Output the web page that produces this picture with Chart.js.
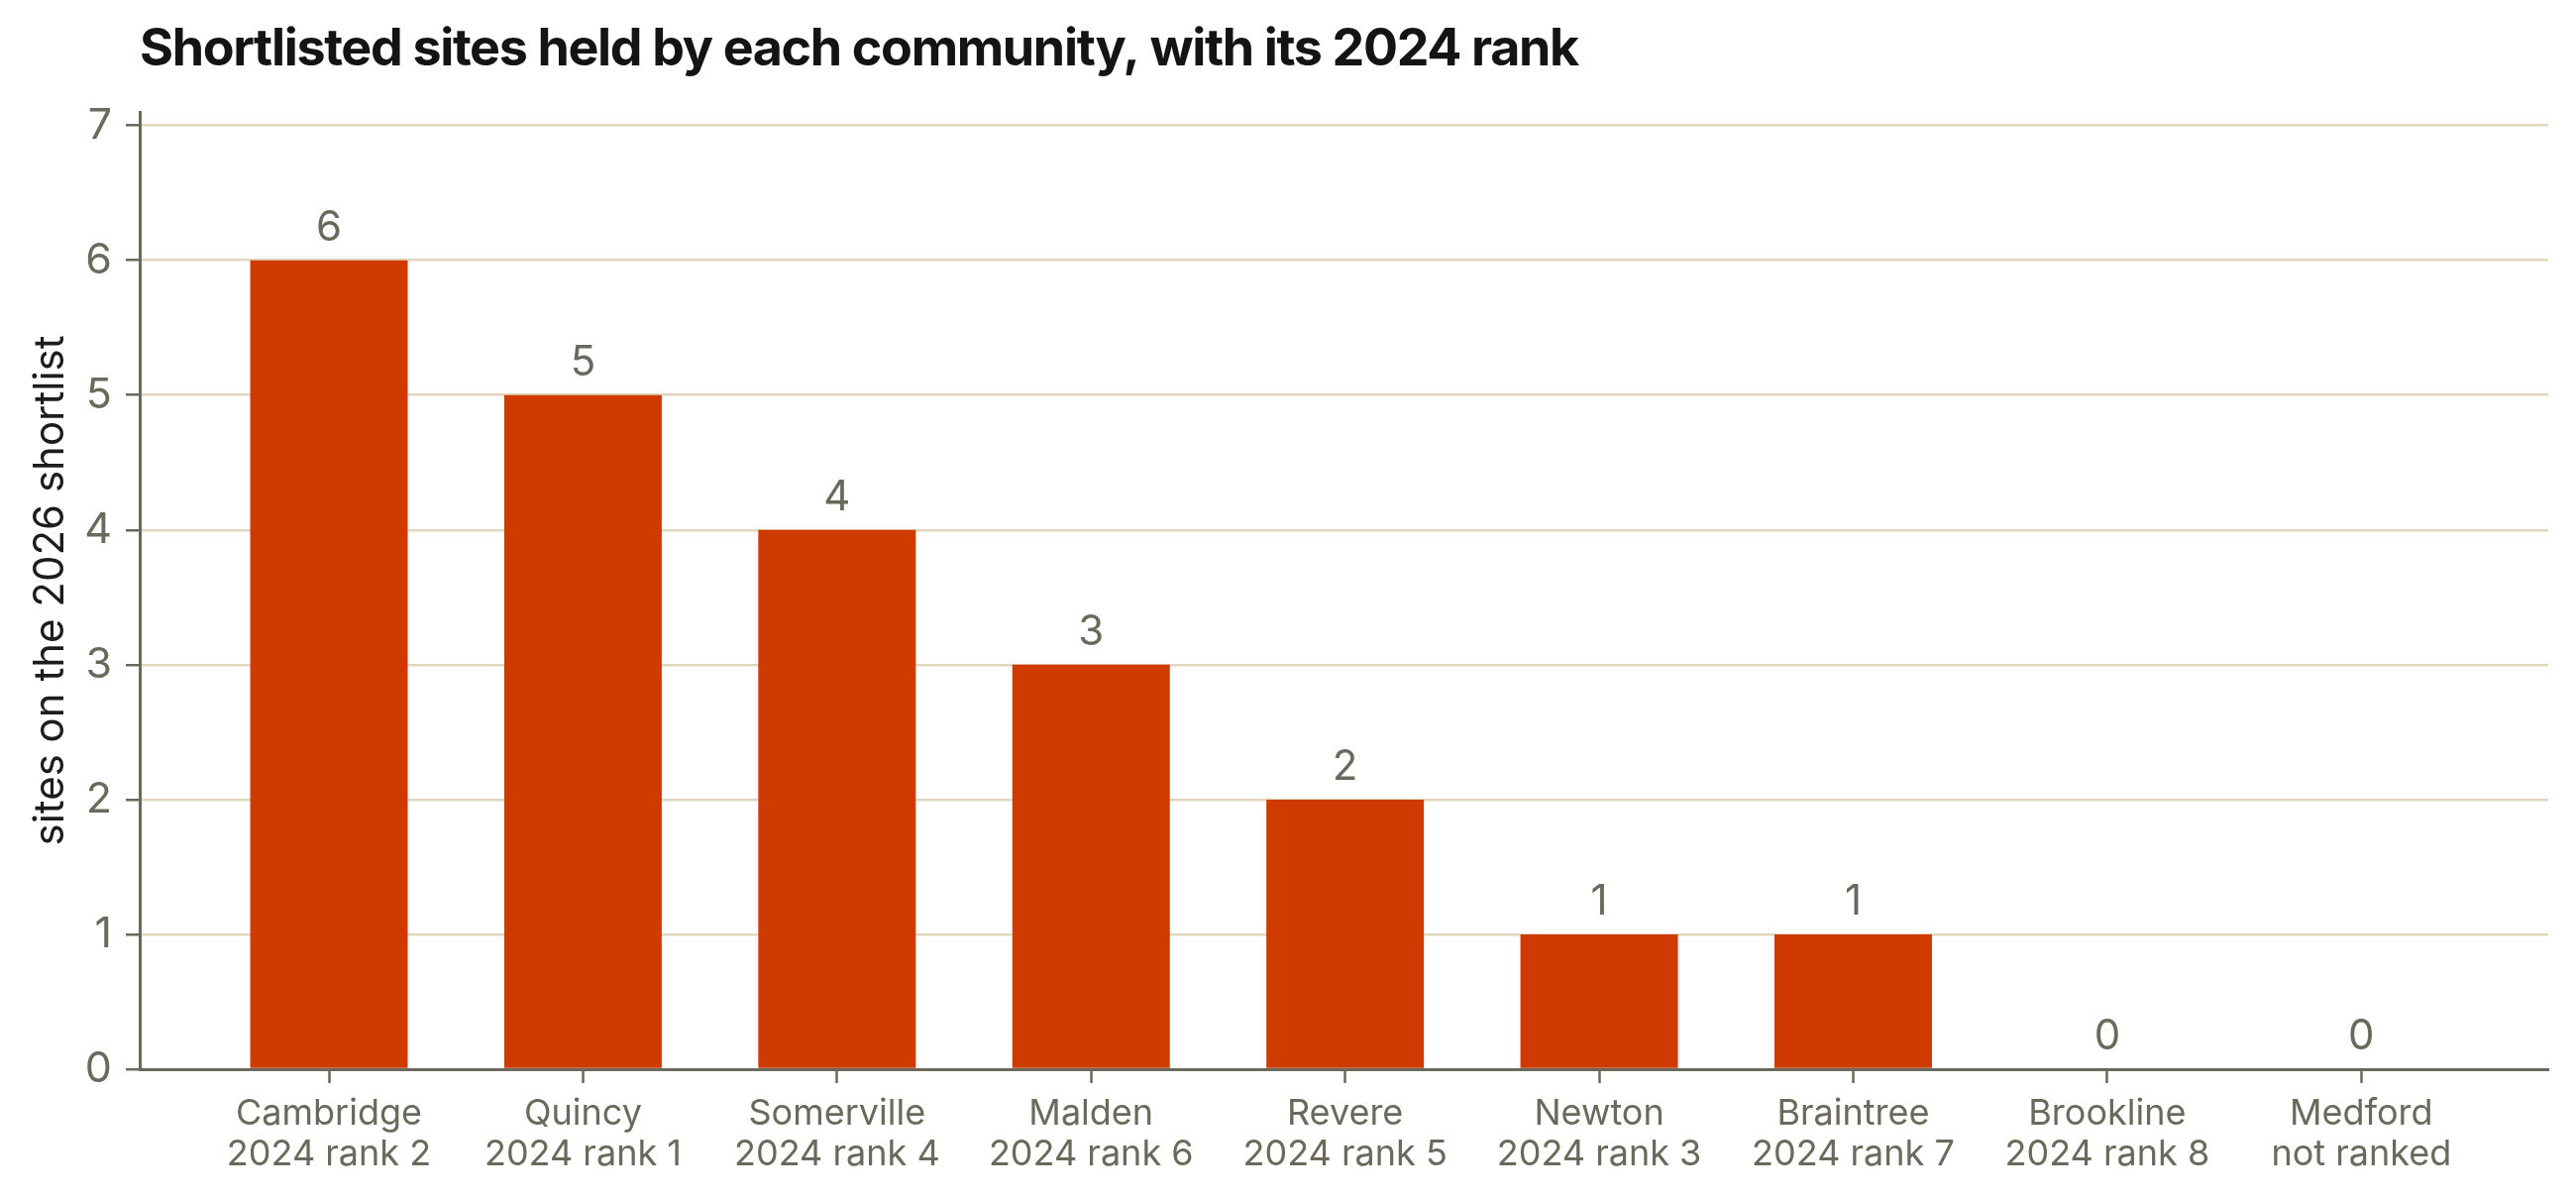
<!DOCTYPE html>
<html>
<head>
<meta charset="utf-8">
<title>Shortlisted sites by community</title>
<script src="https://cdn.jsdelivr.net/npm/chart.js@4.4.1/dist/chart.umd.min.js"></script>
<style>
  html, body { margin: 0; padding: 0; background: #fff; }
  #wrap { width: 2600px; height: 1211px; }
</style>
</head>
<body>
<div id="wrap"><canvas id="chart" width="2600" height="1211"></canvas></div>
<script>
// data
const communities = ["Cambridge", "Quincy", "Somerville", "Malden", "Revere", "Newton", "Braintree", "Brookline", "Medford"];
const ranks2024 = ["2024 rank 2", "2024 rank 1", "2024 rank 4", "2024 rank 6", "2024 rank 5", "2024 rank 3", "2024 rank 7", "2024 rank 8", "not ranked"];
const sites = [6, 5, 4, 3, 2, 1, 1, 0, 0];

const chartTitle = "Shortlisted sites held by each community, with its 2024 rank";
const yTitle = "sites on the 2026 shortlist";

const barColor = "#cf3a00";
const gridColor = "#e2d7be";
const axisColor = "#6b695b";
const textColor = "#6b695b";
const FONT = 'Inter, "Noto Sans", sans-serif';

Chart.defaults.font.family = FONT;

// title drawn by hand so it can be tightened a little
const titlePlugin = {
  id: "titleText",
  afterDraw(chart) {
    const ctx = chart.ctx;
    ctx.save();
    ctx.font = "bold 52px " + FONT;
    ctx.fillStyle = "#141414";
    ctx.textBaseline = "alphabetic";
    ctx.textAlign = "left";
    if ("letterSpacing" in ctx) ctx.letterSpacing = "-1.35px";
    ctx.fillText(chartTitle, 141, 66);
    ctx.restore();
  }
};

// numbers above each bar
const valueLabels = {
  id: "valueLabels",
  afterDatasetsDraw(chart) {
    const ctx = chart.ctx;
    const meta = chart.getDatasetMeta(0);
    ctx.save();
    ctx.font = "42px " + FONT;
    ctx.fillStyle = textColor;
    ctx.textAlign = "center";
    ctx.textBaseline = "alphabetic";
    meta.data.forEach((bar, i) => {
      ctx.fillText(String(sites[i]), bar.x, bar.y - 20);
    });
    ctx.restore();
  }
};

new Chart(document.getElementById("chart"), {
  type: "bar",
  data: {
    datasets: [{
      data: sites.map((v, i) => ({ x: i, y: v })),
      backgroundColor: barColor,
      borderWidth: 0,
      barPercentage: 1,
      categoryPercentage: 0.62
    }]
  },
  options: {
    responsive: false,
    devicePixelRatio: 1,
    animation: false,
    layout: { padding: { top: 113, right: 28, bottom: 0, left: 0 } },
    plugins: {
      legend: { display: false },
      tooltip: { enabled: false },
      title: { display: false }
    },
    scales: {
      x: {
        type: "linear",
        min: -0.745,
        max: 8.736,
        offset: false,
        grid: {
          offset: false,
          drawOnChartArea: false,
          drawTicks: true,
          tickLength: 14,
          tickColor: axisColor,
          tickWidth: 2.5
        },
        border: { display: true, color: axisColor, width: 3 },
        ticks: {
          stepSize: 1,
          includeBounds: false,
          autoSkip: false,
          maxRotation: 0,
          minRotation: 0,
          padding: 10,
          color: textColor,
          font: { size: 36, lineHeight: 1.15 },
          callback: (v) => Number.isInteger(v) && communities[v] ? [communities[v], ranks2024[v]] : ""
        },
        afterFit: (s) => { s.height = 132; }
      },
      y: {
        min: 0,
        max: 7.1,
        grid: {
          color: gridColor,
          lineWidth: 2.5,
          drawTicks: true,
          tickLength: 14,
          tickColor: axisColor,
          tickWidth: 2.5
        },
        border: { display: true, color: axisColor, width: 3 },
        ticks: {
          stepSize: 1,
          includeBounds: false,
          padding: 14,
          color: textColor,
          font: { size: 43 }
        },
        title: {
          display: true,
          text: yTitle,
          color: "#1c1c1c",
          font: { size: 42, lineHeight: 1.2 },
          padding: { top: 26, bottom: 0 }
        },
        afterFit: (s) => { s.width = 141; }
      }
    }
  },
  plugins: [titlePlugin, valueLabels]
});
</script>
</body>
</html>
